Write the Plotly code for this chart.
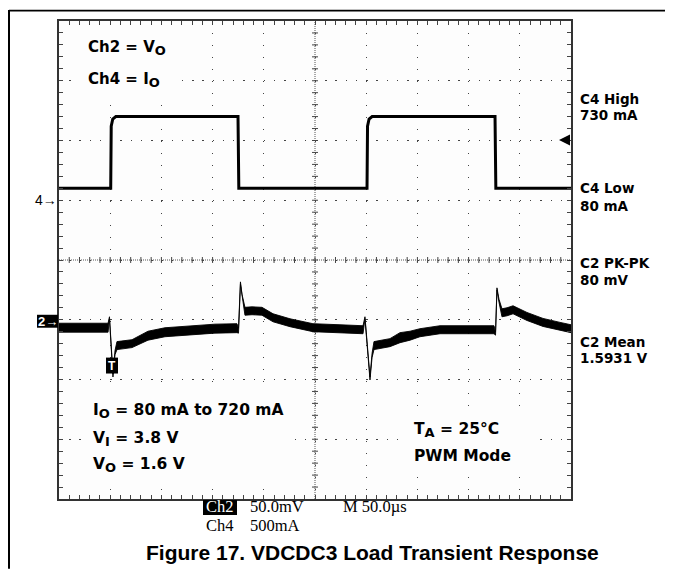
import plotly.graph_objects as go

# ---------------- data ----------------
# time axis in microseconds (M 50.0 us / div, 10 div)
ch4_t = [0, 50.5, 51.0, 52.5, 55.5, 174.8, 175.6, 300.8, 301.3, 302.8, 305.8, 425.8, 426.6, 500]
ch4_mA = [100, 100, 620, 680, 700, 700, 100, 100, 620, 680, 700, 700, 100, 100]

ch2_t = [0, 47.9, 49.3, 50.8, 52.7, 54.7, 56.6, 71.3, 86.9, 103.5, 126.0, 152.3, 173.8,
         175.3, 177.2, 178.7, 181.6, 188.5, 198.2, 209.0, 225.6, 248.0, 274.4, 296.9,
         298.8, 300.8, 303.7, 305.7, 307.6, 323.2, 333.0, 342.8, 352.5, 372.1, 398.4, 424.8,
         426.3, 427.7, 429.7, 432.6, 437.5, 443.4, 457.0, 472.7, 489.3, 500.0]
# upper / lower envelope of the noisy Vo trace (V)
ch2_hi = [1.5971, 1.5971, 1.6025, 1.5833, 1.5546, 1.5742, 1.5817, 1.5833, 1.5904, 1.5933, 1.5946, 1.5963, 1.5967,
          1.5929, 1.6317, 1.6213, 1.6104, 1.6108, 1.6104, 1.6050, 1.6008, 1.5967, 1.5958, 1.5950,
          1.6025, 1.5833, 1.5521, 1.5717, 1.5817, 1.5842, 1.5892, 1.5904, 1.5925, 1.5950, 1.5950, 1.5950,
          1.5896, 1.6267, 1.6171, 1.6092, 1.6100, 1.6117, 1.6061, 1.6011, 1.5978, 1.5958]
ch2_lo = [1.5896, 1.5896, 1.6008, 1.5817, 1.5521, 1.5708, 1.5750, 1.5767, 1.5829, 1.5858, 1.5871, 1.5888, 1.5892,
          1.5888, 1.6300, 1.6188, 1.6038, 1.6042, 1.6038, 1.5983, 1.5942, 1.5900, 1.5892, 1.5883,
          1.6008, 1.5817, 1.5496, 1.5683, 1.5750, 1.5775, 1.5808, 1.5829, 1.5858, 1.5883, 1.5883, 1.5883,
          1.5871, 1.6250, 1.6146, 1.6025, 1.6033, 1.6050, 1.5994, 1.5944, 1.5911, 1.5892]

right_labels = ["C4 High", "730 mA", "C4 Low", "80 mA", "C2 PK-PK", "80 mV", "C2 Mean", "1.5931 V"]
caption = "Figure 17. VDCDC3 Load Transient Response"

# ---------------- layout geometry (page pixels; body has an 8px margin) ----------------
OFF = 8
W, H = 673 - OFF, 569 - OFF
L, R, T, B = 59, 571, 19, 499
PW, PH = R - L, B - T


def fx(x):
    return (x - L) / PW


def fy(y):
    return (B - y) / PH


fig = go.Figure()

# Ch4 (current)
fig.add_trace(go.Scatter(x=ch4_t, y=ch4_mA, mode="lines", yaxis="y",
                         line=dict(color="black", width=3), hoverinfo="skip", showlegend=False))
# Ch2 (voltage) as noisy band
fig.add_trace(go.Scatter(x=ch2_t + ch2_t[::-1], y=ch2_hi + ch2_lo[::-1], mode="lines", yaxis="y2",
                         fill="toself", fillcolor="black",
                         line=dict(color="black", width=0.9), hoverinfo="skip", showlegend=False))

shapes = []
# centre cross-hair lines (below traces)
shapes.append(dict(type="line", xref="paper", yref="paper", x0=0, x1=1, y0=0.5, y1=0.5,
                   line=dict(color="#555", width=1, dash="1px,1px"), layer="below"))
shapes.append(dict(type="line", xref="paper", yref="paper", x0=0.5, x1=0.5, y0=0, y1=1,
                   line=dict(color="#555", width=1, dash="1px,1px"), layer="below"))
for k in range(1, 50):
    xd = k / 50
    shapes.append(dict(type="line", xref="paper", yref="paper", x0=xd, x1=xd,
                       y0=0.5 - 3 / PH, y1=0.5 + 3 / PH, line=dict(color="#444", width=1), layer="below"))
for k in range(1, 40):
    yd = k / 40
    shapes.append(dict(type="line", xref="paper", yref="paper", x0=0.5 - 3 / PW, x1=0.5 + 3 / PW,
                       y0=yd, y1=yd, line=dict(color="#444", width=1), layer="below"))

# white boxes behind the in-graticule notes (cover grid, no trace passes there)
for (x0, y0, x1, y1) in [(77, 25, 181, 97), (83, 388, 293, 483), (407, 413, 540, 472)]:
    shapes.append(dict(type="rect", xref="paper", yref="paper", x0=fx(x0), x1=fx(x1),
                       y0=fy(y1), y1=fy(y0), fillcolor="#fdfdfd", line=dict(width=0), layer="above"))

# black boxes for markers
for (x0, y0, x1, y1) in [(37, 314, 58, 327), (106, 357, 118, 373), (203, 500, 237, 515)]:
    shapes.append(dict(type="rect", xref="paper", yref="paper", x0=fx(x0), x1=fx(x1),
                       y0=fy(y1), y1=fy(y0), fillcolor="black", line=dict(width=0), layer="above"))

# outer figure border (top + left)
shapes.append(dict(type="line", xref="paper", yref="paper", x0=fx(9), x1=fx(673), y0=fy(8.6), y1=fy(8.6),
                   line=dict(color="black", width=1.6), layer="above"))
shapes.append(dict(type="line", xref="paper", yref="paper", x0=fx(9), x1=fx(9), y0=fy(8), y1=fy(569),
                   line=dict(color="black", width=2), layer="above"))

ann = []
NF = "DejaVu Sans, Verdana, sans-serif"
BF = "Liberation Sans, Arial, sans-serif"
SF = "Liberation Serif, Times New Roman, serif"


def add_text(text, x, y, size, color="black", family=NF, xanchor="left", bold=True):
    t = f"<b>{text}</b>" if bold else text
    ann.append(dict(text=t, x=fx(x), y=fy(y), xref="paper", yref="paper", showarrow=False,
                    xanchor=xanchor, yanchor="middle", borderpad=0,
                    font=dict(size=size, color=color, family=family)))


def sub(s, px=13):
    return f"<sub><span style='font-size:{px}px'>{s}</span></sub>"


add_text("Ch2 = V" + sub("O"), 87, 46, 15)
add_text("Ch4 = I" + sub("O"), 87, 78, 15)
add_text("I" + sub("O") + " = 80 mA to 720 mA", 92, 411, 15.5)
add_text("V" + sub("I") + " = 3.8 V", 92, 439, 15.5)
add_text("V" + sub("O") + " = 1.6 V", 92, 465, 15.5)
add_text("T" + sub("A") + " = 25°C", 413, 430, 15.5)
add_text("PWM Mode", 413, 456, 15.5)

for lbl, yy in zip(right_labels, [97, 113, 187, 205, 262, 279, 341, 357]):
    add_text(lbl, 579, yy, 13.5)

add_text("4→", 58, 199, 14, family=BF, xanchor="right", bold=False)
add_text("2→", 47.5, 320.5, 13, color="white", family=BF, xanchor="center", bold=True)
add_text("T", 112, 365, 12, color="white", family=BF, xanchor="center", bold=True)

add_text("Ch2", 220, 507, 16.5, color="white", family=SF, xanchor="center", bold=False)
add_text("50.0mV", 249, 507, 16.5, family=SF, bold=False)
add_text("Ch4", 220, 526, 16.5, family=SF, xanchor="center", bold=False)
add_text("500mA", 249, 526, 16.5, family=SF, bold=False)
add_text("M 50.0µs", 342, 507, 16.5, family=SF, bold=False)

add_text(caption, 145, 553, 21, family=BF)

# trigger level arrow on right edge
ann.append(dict(text="", x=fx(559), y=fy(138.5), xref="paper", yref="paper", showarrow=True,
                ax=12, ay=0, arrowhead=2, arrowsize=1.1, arrowwidth=2, arrowcolor="black"))

fig.update_layout(
    width=W, height=H,
    margin=dict(l=L - OFF, r=W - (R - OFF), t=T - OFF, b=H - (B - OFF)),
    paper_bgcolor="white", plot_bgcolor="#fdfdfd",
    showlegend=False,
    shapes=shapes, annotations=ann,
    xaxis=dict(range=[0, 500], tick0=0, dtick=50, showticklabels=False,
               showgrid=True, gridcolor="#444", gridwidth=1.4, griddash="1.4px,10.6px",
               zeroline=False, showline=True, linecolor="#333", linewidth=1.5, mirror="ticks",
               ticks="inside", ticklen=4, tickcolor="#444", tickwidth=1,
               minor=dict(dtick=10, ticks="inside", ticklen=4, tickcolor="#444", tickwidth=1, showgrid=False)),
    yaxis=dict(range=[-2500, 1500], tick0=-2500, dtick=500, showticklabels=False,
               showgrid=True, gridcolor="#444", gridwidth=1.4, griddash="1.4px,8.84px",
               zeroline=False, showline=True, linecolor="#333", linewidth=1.5, mirror="ticks",
               ticks="inside", ticklen=4, tickcolor="#444", tickwidth=1,
               minor=dict(dtick=100, ticks="inside", ticklen=4, tickcolor="#444", tickwidth=1, showgrid=False)),
    yaxis2=dict(range=[1.45, 1.85], overlaying="y", showgrid=False, showticklabels=False,
                zeroline=False, showline=False, ticks=""),
)

fig.write_html("out.html", config={"displayModeBar": False})
